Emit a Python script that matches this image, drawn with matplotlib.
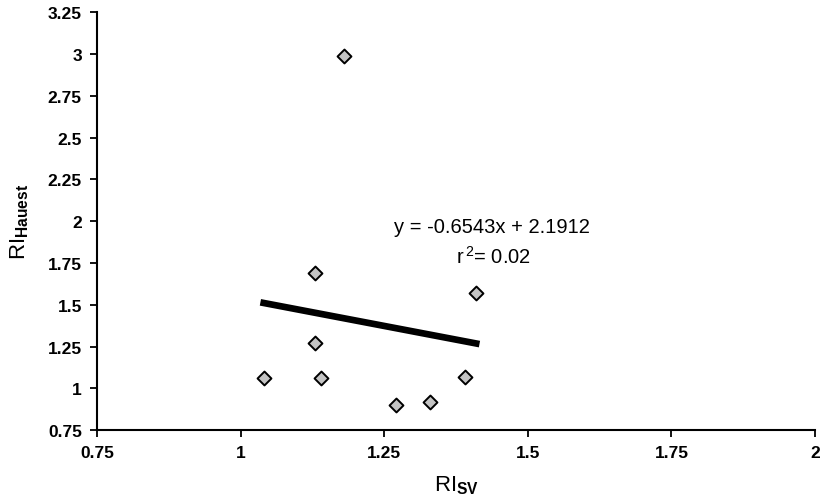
import numpy as np
import matplotlib
matplotlib.use('Agg')
import matplotlib.pyplot as plt

plt.rcParams['font.family'] = ['Liberation Sans', 'DejaVu Sans']
plt.rcParams['mathtext.fontset'] = 'custom'
plt.rcParams['mathtext.rm'] = 'Liberation Sans'
plt.rcParams['mathtext.bf'] = 'Liberation Sans:bold'

# data
ri_sv = [1.04, 1.13, 1.13, 1.14, 1.18, 1.27, 1.33, 1.39, 1.41]
ri_hauest = [1.06, 1.69, 1.27, 1.06, 2.99, 0.90, 0.92, 1.07, 1.57]
slope = -0.6543
intercept = 2.1912
r2 = 0.02
xticks = [0.75, 1, 1.25, 1.5, 1.75, 2]
yticks = [0.75, 1, 1.25, 1.5, 1.75, 2, 2.25, 2.5, 2.75, 3, 3.25]

fig = plt.figure(figsize=(8.3, 5.02), dpi=100)
ax = fig.add_axes([0.117, 0.141, 0.865, 0.833])

ax.scatter(ri_sv, ri_hauest, marker='D', s=50, facecolor='#c4c4c4',
           edgecolor='black', linewidth=1.4, zorder=3)

# trend line over the x range of the data
xl = np.array([min(ri_sv), max(ri_sv)])
ax.plot(xl, slope * xl + intercept, color='black', lw=4.8, zorder=2)

ax.text(1.437, 1.965, 'y = -0.6543x + 2.1912', fontsize=14.5, ha='center', va='center')
ax.text(1.44, 1.795, r'r$^{\,2}$= %.2f' % r2, fontsize=14.5, ha='center', va='center')

ax.set_xlim(0.75, 2)
ax.set_ylim(0.75, 3.25)
ax.set_xticks(xticks)
ax.set_xticklabels(['%g' % t for t in xticks], fontweight='bold')
ax.set_yticks(yticks)
ax.set_yticklabels(['%g' % t for t in yticks], fontweight='bold')
ax.tick_params(direction='out', length=5, width=1.3, labelsize=12.5, pad=6)
for s in ['top', 'right']:
    ax.spines[s].set_visible(False)
for s in ['left', 'bottom']:
    ax.spines[s].set_linewidth(1.5)

ax.set_xlabel(r'RI$_{\mathbf{SV}}$', fontsize=16, labelpad=9)
ax.set_ylabel(r'RI$_{\mathbf{Hauest}}$', fontsize=16, labelpad=12)

fig.savefig('out.png', dpi=100)
